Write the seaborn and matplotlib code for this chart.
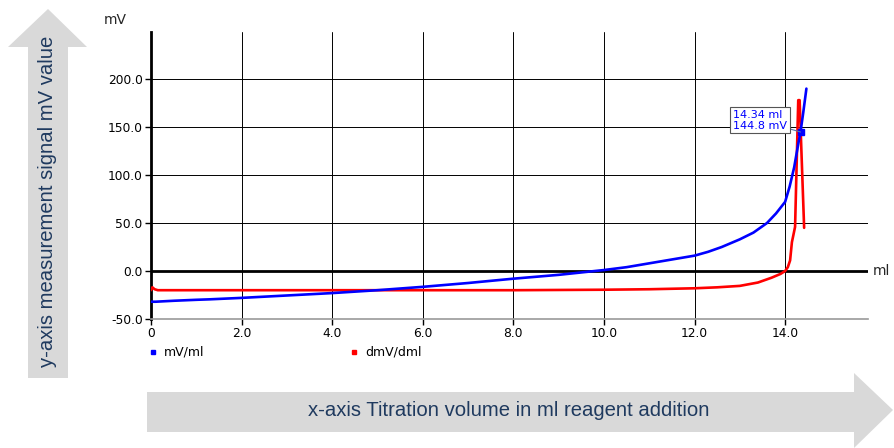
import numpy as np
import pandas as pd
import seaborn as sns
import matplotlib.pyplot as plt
from matplotlib.patches import Polygon

sns.set_theme(style="white")
plt.rcParams['font.family'] = ['DejaVu Sans']

# titration data
vol_mv = [0, 0.1, 0.3, 0.5, 1.0, 1.3, 2.0, 3.0, 4.0, 5.0, 6.0, 7.0, 8.0, 9.0, 10.0, 10.5,
          11.0, 11.5, 12.0, 12.3, 12.6, 13.0, 13.3, 13.6, 13.8, 14.0, 14.1, 14.2, 14.3, 14.34,
          14.4, 14.47]
mv_ml = [-32, -32, -31.5, -31, -30, -29.5, -28, -25.5, -23, -20, -16.5, -12.5, -8, -4, 1, 4,
         8, 12, 16, 20, 25, 33, 40, 50, 60, 72, 88, 108, 135, 144.8, 165, 190]

vol_dmv = [0, 0.03, 0.08, 0.15, 2.0, 4.0, 6.0, 8.0, 10.0, 11.0, 12.0, 12.5, 13.0, 13.4, 13.7,
           13.9, 14.0, 14.06, 14.11, 14.15, 14.22, 14.29, 14.32, 14.42]
dmv_dml = [-20, -17, -19, -20, -20, -20, -20, -20, -19.5, -19, -18, -17, -15.5, -12, -7,
           -3, 0, 4, 11, 30, 46, 178, 178, 45]

x_ticks = [0, 2, 4, 6, 8, 10, 12, 14]
x_labels = ["0", "2.0", "4.0", "6.0", "8.0", "10.0", "12.0", "14.0"]
y_ticks = [-50, 0, 50, 100, 150, 200]
y_labels = ["-50.0", "0.0", "50.0", "100.0", "150.0", "200.0"]

cursor_x, cursor_y = 14.34, 144.8

W, H = 895, 448
fig = plt.figure(figsize=(W / 100, H / 100), dpi=100)

# background layer for the big grey arrows (pixel coords)
bg = fig.add_axes([0, 0, 1, 1], zorder=0)
bg.set_xlim(0, W)
bg.set_ylim(H, 0)
bg.axis("off")
grey = "#d9d9d9"
txt_col = "#1f3a5f"
bg.add_patch(Polygon([(28, 378), (28, 47), (8, 47), (48, 9), (87, 47), (68, 47), (68, 378)],
                     closed=True, color=grey, lw=0))
bg.add_patch(Polygon([(147, 392), (854, 392), (854, 373), (893, 410), (854, 448), (854, 432),
                      (147, 432)], closed=True, color=grey, lw=0))
bg.text(48, 201, "y-axis measurement signal mV value", rotation=90, ha="center", va="center",
        color=txt_col, fontsize=14.6, family="Liberation Sans")
bg.text(509, 411, "x-axis Titration volume in ml reagent addition", ha="center", va="center",
        color=txt_col, fontsize=14.6, family="Liberation Sans")

# legend entries
bg.plot([153], [352], marker="s", color="blue", ms=3.5, ls="none")
bg.text(164, 352, "mV/ml", va="center", fontsize=9, color="black")
bg.plot([354], [352], marker="s", color="red", ms=3.5, ls="none")
bg.text(365, 352, "dmV/dml", va="center", fontsize=9, color="black")

# main chart
ax = fig.add_axes([151 / W, (H - 319) / H, (868 - 151) / W, (319 - 32) / H], zorder=1)
ax.patch.set_alpha(0)

df_mv = pd.DataFrame({"ml": vol_mv, "mV": mv_ml})
df_dmv = pd.DataFrame({"ml": vol_dmv, "mV": dmv_dml})
sns.lineplot(data=df_mv, x="ml", y="mV", color="blue", lw=1.9, ax=ax, estimator=None,
             sort=False, zorder=4)
sns.lineplot(data=df_dmv, x="ml", y="mV", color="red", lw=1.9, ax=ax, estimator=None,
             sort=False, zorder=3)

ax.set_xlim(0, 15.83)
ax.set_ylim(-50, 249)
ax.set_xticks(x_ticks)
ax.set_xticklabels(x_labels)
ax.set_yticks(y_ticks)
ax.set_yticklabels(y_labels)
ax.set_xlabel("")
ax.set_ylabel("")
ax.tick_params(axis="both", which="both", direction="out", length=4, width=1, color="black",
               labelsize=8.8, labelcolor="black", pad=2, left=True, bottom=True)

ax.grid(True, color="black", lw=0.7)
ax.axhline(0, color="black", lw=2, zorder=2)
for s in ["top", "right"]:
    ax.spines[s].set_visible(False)
ax.spines["left"].set_color("black")
ax.spines["left"].set_linewidth(2)
ax.spines["bottom"].set_color("#999999")
ax.spines["bottom"].set_linewidth(1.2)

ax.text(-0.78, 261, "mV", fontsize=10, ha="center", va="center", clip_on=False)
ax.text(15.93, 0, "ml", fontsize=10, ha="left", va="center", clip_on=False)

# cursor readout
ax.plot([cursor_x], [cursor_y], marker="s", color="blue", ms=4.5, zorder=6)
ax.annotate(f"{cursor_x:.2f} ml\n{cursor_y:.1f} mV", xy=(cursor_x, cursor_y),
            xytext=(13.45, 157), textcoords="data", ha="center", va="center",
            multialignment="left", fontsize=8, color="blue", zorder=7, linespacing=1.1,
            bbox=dict(boxstyle="square,pad=0.25", fc="white", ec="#555555", lw=0.8),
            arrowprops=dict(arrowstyle="-", color="#5577aa", lw=0.8, shrinkA=0, shrinkB=0))

fig.savefig("out.png", dpi=100)
